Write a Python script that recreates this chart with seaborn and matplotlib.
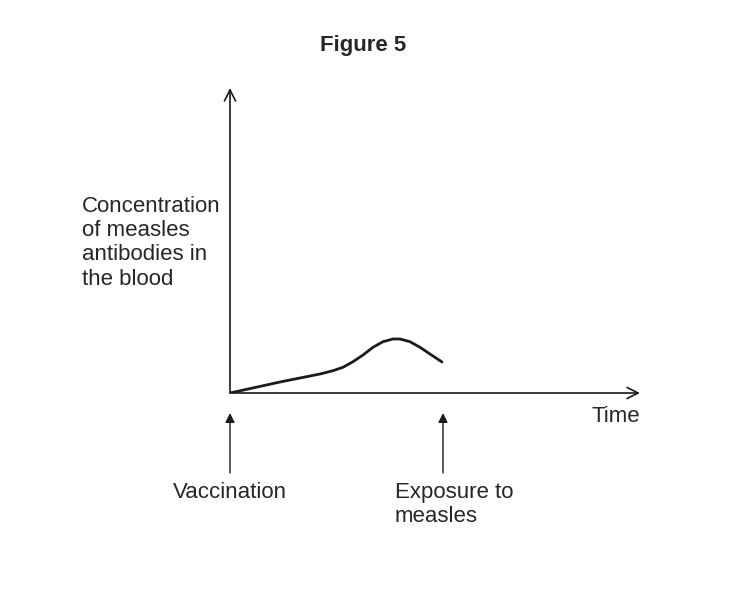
import numpy as np
import pandas as pd
import matplotlib
matplotlib.use("Agg")
import matplotlib.pyplot as plt
import seaborn as sns

# curve (time units, concentration units; arbitrary scale)
time = [0, 25, 50, 75, 90, 103, 113, 123, 133, 143, 153, 163, 170, 180, 190, 200, 212]
conc = [0, 5.5, 11, 16, 19, 22.3, 25.7, 31.3, 38, 45.7, 51.3, 54, 54, 51.3, 45.7, 39, 31]

event_times = [0, 213]
event_labels = ["Vaccination", "Exposure to\nmeasles"]

title = "Figure 5"
y_label = "Concentration\nof measles\nantibodies in\nthe blood"
x_label = "Time"

sns.set_style("white")
plt.rcParams['font.family'] = ['Liberation Sans', 'DejaVu Sans']

fig = plt.figure(figsize=(7.5, 5.91), dpi=100)
ax = fig.add_axes([230 / 750, 198 / 591, 410 / 750, 305 / 591])
ax.set_xlim(0, 410)
ax.set_ylim(0, 305)
ax.axis('off')

df = pd.DataFrame({'time': time, 'conc': conc})
sns.lineplot(data=df, x='time', y='conc', sort=False, color='#1a1a1a', lw=2.0,
             ax=ax, solid_joinstyle='round', solid_capstyle='round')

# axes with open arrow heads
axis_kw = dict(arrowstyle='->', color='#1a1a1a', lw=1.2, mutation_scale=20, shrinkA=0, shrinkB=0)
ax.annotate('', xy=(410, 0), xytext=(0, 0), arrowprops=axis_kw, annotation_clip=False)
ax.annotate('', xy=(0, 305), xytext=(0, 0), arrowprops=axis_kw, annotation_clip=False)

# event arrows under the time axis
ev_kw = dict(arrowstyle='-|>', color='#1a1a1a', lw=1.0, mutation_scale=14, shrinkA=0, shrinkB=0)
for t in event_times:
    ax.annotate('', xy=(t, -20), xytext=(t, -80), arrowprops=ev_kw, annotation_clip=False)

fs = 16
fig.text(173 / 750, 1 - 492 / 591, event_labels[0], fontsize=fs, ha='left', va='center')
fig.text(395 / 750, 1 - 482 / 591, event_labels[1], fontsize=fs, ha='left', va='top', linespacing=1.2)
fig.text(640 / 750, 1 - 417 / 591, x_label, fontsize=fs, ha='right', va='center')
fig.text(82 / 750, 1 - 196 / 591, y_label, fontsize=fs, ha='left', va='top', linespacing=1.2)
fig.text(363 / 750, 1 - 45 / 591, title, fontsize=fs, fontweight='bold', ha='center', va='center')

fig.savefig('out.png', dpi=100, facecolor='white')
